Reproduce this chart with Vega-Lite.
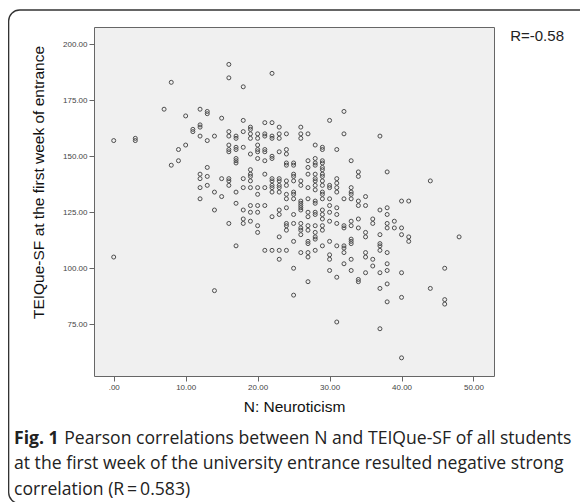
{
  "$schema": "https://vega.github.io/schema/vega-lite/v6.json",
  "width": 400,
  "height": 349,
  "autosize": "none",
  "padding": {"left": 94, "top": 27, "right": 86, "bottom": 126},
  "background": "white",
  "config": {
    "view": {"fill": "#f0f0f0", "stroke": "#666666", "strokeWidth": 1},
    "axis": {"grid": false, "domain": false, "tickColor": "#666666", "tickSize": 5, "labelFont": "Liberation Sans", "labelFontSize": 8, "labelColor": "#444444", "titleFont": "Liberation Sans", "titleFontSize": 15.5, "titleFontWeight": "normal", "titleColor": "#111111"}
  },
  "title": {
    "text": "Fig. 1",
    "subtitle": ["\u200b\u00a0\u00a0\u00a0\u00a0\u00a0\u00a0\u00a0\u00a0\u00a0\u00a0\u00a0Pearson correlations between N and TEIQue-SF of all students", "at the first week of the university entrance resulted negative strong", "correlation (R\u2009=\u20090.583)"],
    "orient": "bottom",
    "anchor": "start",
    "frame": "group",
    "dx": -80,
    "offset": -74.6,
    "font": "Open Sans",
    "fontSize": 17.6,
    "fontWeight": "bold",
    "color": "#222222",
    "subtitleFont": "Open Sans",
    "subtitleFontSize": 17.6,
    "subtitleColor": "#222222",
    "subtitleLineHeight": 25.5,
    "subtitlePadding": -17.6
  },
  "data": {"values": [
    {"N":0,"T":157},{"N":0,"T":105},{"N":3,"T":158},{"N":3,"T":157},
    {"N":7,"T":171},{"N":8,"T":183},{"N":8,"T":146},{"N":9,"T":153},{"N":9,"T":148},{"N":10,"T":168},{"N":10,"T":155},
    {"N":11,"T":162},{"N":11,"T":161},{"N":12,"T":171},{"N":12,"T":164},{"N":12,"T":163},{"N":12,"T":159},{"N":12,"T":142},{"N":12,"T":140},{"N":12,"T":136},{"N":12,"T":131},
    {"N":13,"T":170},{"N":13,"T":169},{"N":13,"T":157},{"N":13,"T":145},{"N":13,"T":141},{"N":13,"T":137},
    {"N":14,"T":159},{"N":14,"T":134},{"N":14,"T":126},{"N":14,"T":90},
    {"N":15,"T":167},{"N":15,"T":140},{"N":15,"T":132},
    {"N":16,"T":191},{"N":16,"T":185},{"N":16,"T":161},{"N":16,"T":159},{"N":16,"T":155},{"N":16,"T":153},{"N":16,"T":152},{"N":16,"T":140},{"N":16,"T":139},{"N":16,"T":137},{"N":16,"T":120},
    {"N":17,"T":159},{"N":17,"T":158},{"N":17,"T":154},{"N":17,"T":153},{"N":17,"T":149},{"N":17,"T":148},{"N":17,"T":147},{"N":17,"T":134},{"N":17,"T":129},{"N":17,"T":110},
    {"N":18,"T":181},{"N":18,"T":166},{"N":18,"T":161},{"N":18,"T":154},{"N":18,"T":140},{"N":18,"T":136},{"N":18,"T":126},{"N":18,"T":122},{"N":18,"T":120},
    {"N":19,"T":163},{"N":19,"T":162},{"N":19,"T":160},{"N":19,"T":158},{"N":19,"T":151},{"N":19,"T":144},{"N":19,"T":142},{"N":19,"T":141},{"N":19,"T":139},{"N":19,"T":136},{"N":19,"T":128},{"N":19,"T":125},{"N":19,"T":121},
    {"N":20,"T":160},{"N":20,"T":158},{"N":20,"T":155},{"N":20,"T":153},{"N":20,"T":152},{"N":20,"T":149},{"N":20,"T":136},{"N":20,"T":133},{"N":20,"T":128},{"N":20,"T":125},{"N":20,"T":119},{"N":20,"T":116},
    {"N":21,"T":165},{"N":21,"T":160},{"N":21,"T":159},{"N":21,"T":153},{"N":21,"T":152},{"N":21,"T":148},{"N":21,"T":142},{"N":21,"T":136},{"N":21,"T":128},{"N":21,"T":108},
    {"N":22,"T":187},{"N":22,"T":165},{"N":22,"T":159},{"N":22,"T":158},{"N":22,"T":150},{"N":22,"T":149},{"N":22,"T":140},{"N":22,"T":139},{"N":22,"T":137},{"N":22,"T":136},{"N":22,"T":134},{"N":22,"T":123},{"N":22,"T":108},
    {"N":23,"T":163},{"N":23,"T":160},{"N":23,"T":158},{"N":23,"T":152},{"N":23,"T":140},{"N":23,"T":139},{"N":23,"T":137},{"N":23,"T":136},{"N":23,"T":134},{"N":23,"T":126},{"N":23,"T":124},{"N":23,"T":114},{"N":23,"T":108},{"N":23,"T":104},
    {"N":24,"T":160},{"N":24,"T":153},{"N":24,"T":151},{"N":24,"T":147},{"N":24,"T":146},{"N":24,"T":139},{"N":24,"T":137},{"N":24,"T":133},{"N":24,"T":131},{"N":24,"T":127},{"N":24,"T":120},{"N":24,"T":119},{"N":24,"T":117},{"N":24,"T":108},
    {"N":25,"T":147},{"N":25,"T":146},{"N":25,"T":142},{"N":25,"T":141},{"N":25,"T":139},{"N":25,"T":134},{"N":25,"T":133},{"N":25,"T":131},{"N":25,"T":124},{"N":25,"T":120},{"N":25,"T":112},{"N":25,"T":100},{"N":25,"T":88},
    {"N":26,"T":163},{"N":26,"T":160},{"N":26,"T":158},{"N":26,"T":139},{"N":26,"T":137},{"N":26,"T":130},{"N":26,"T":129},{"N":26,"T":128},{"N":26,"T":127},{"N":26,"T":126},{"N":26,"T":120},{"N":26,"T":118},{"N":26,"T":117},{"N":26,"T":115},{"N":26,"T":107},
    {"N":27,"T":160},{"N":27,"T":148},{"N":27,"T":145},{"N":27,"T":142},{"N":27,"T":136},{"N":27,"T":131},{"N":27,"T":125},{"N":27,"T":123},{"N":27,"T":119},{"N":27,"T":117},{"N":27,"T":112},{"N":27,"T":111},{"N":27,"T":107},{"N":27,"T":105},{"N":27,"T":94},
    {"N":28,"T":155},{"N":28,"T":149},{"N":28,"T":147},{"N":28,"T":146},{"N":28,"T":142},{"N":28,"T":140},{"N":28,"T":139},{"N":28,"T":137},{"N":28,"T":135},{"N":28,"T":130},{"N":28,"T":129},{"N":28,"T":125},{"N":28,"T":124},{"N":28,"T":119},{"N":28,"T":116},{"N":28,"T":114},{"N":28,"T":113},{"N":28,"T":108},
    {"N":29,"T":154},{"N":29,"T":153},{"N":29,"T":148},{"N":29,"T":147},{"N":29,"T":145},{"N":29,"T":144},{"N":29,"T":142},{"N":29,"T":141},{"N":29,"T":139},{"N":29,"T":137},{"N":29,"T":134},{"N":29,"T":133},{"N":29,"T":131},{"N":29,"T":126},{"N":29,"T":124},{"N":29,"T":122},{"N":29,"T":119},{"N":29,"T":117},{"N":29,"T":110},
    {"N":30,"T":166},{"N":30,"T":137},{"N":30,"T":136},{"N":30,"T":131},{"N":30,"T":128},{"N":30,"T":125},{"N":30,"T":121},{"N":30,"T":112},{"N":30,"T":106},{"N":30,"T":104},{"N":30,"T":99},
    {"N":31,"T":153},{"N":31,"T":140},{"N":31,"T":138},{"N":31,"T":136},{"N":31,"T":134},{"N":31,"T":127},{"N":31,"T":124},{"N":31,"T":120},{"N":31,"T":110},{"N":31,"T":96},{"N":31,"T":76},
    {"N":32,"T":170},{"N":32,"T":160},{"N":32,"T":131},{"N":32,"T":119},{"N":32,"T":118},{"N":32,"T":110},{"N":32,"T":109},{"N":32,"T":107},{"N":32,"T":102},
    {"N":33,"T":148},{"N":33,"T":136},{"N":33,"T":134},{"N":33,"T":133},{"N":33,"T":131},{"N":33,"T":121},{"N":33,"T":119},{"N":33,"T":113},{"N":33,"T":112},{"N":33,"T":111},{"N":33,"T":104},{"N":33,"T":99},
    {"N":34,"T":143},{"N":34,"T":141},{"N":34,"T":130},{"N":34,"T":128},{"N":34,"T":122},{"N":34,"T":118},{"N":34,"T":95},{"N":34,"T":94},
    {"N":35,"T":132},{"N":35,"T":128},{"N":35,"T":116},{"N":35,"T":114},{"N":35,"T":107},{"N":35,"T":105},{"N":35,"T":98},
    {"N":36,"T":122},{"N":36,"T":120},{"N":36,"T":104},{"N":36,"T":101},
    {"N":37,"T":159},{"N":37,"T":126},{"N":37,"T":115},{"N":37,"T":111},{"N":37,"T":110},{"N":37,"T":108},{"N":37,"T":98},{"N":37,"T":91},{"N":37,"T":73},
    {"N":38,"T":143},{"N":38,"T":127},{"N":38,"T":124},{"N":38,"T":120},{"N":38,"T":118},{"N":38,"T":107},{"N":38,"T":102},{"N":38,"T":99},{"N":38,"T":93},{"N":38,"T":85},
    {"N":39,"T":121},{"N":39,"T":118},
    {"N":40,"T":130},{"N":40,"T":118},{"N":40,"T":115},{"N":40,"T":98},{"N":40,"T":87},{"N":40,"T":60},
    {"N":41,"T":130},{"N":41,"T":114},{"N":41,"T":112},
    {"N":44,"T":139},{"N":44,"T":91},
    {"N":46,"T":100},{"N":46,"T":86},{"N":46,"T":84},
    {"N":48,"T":114}
  ]},
  "layer": [
    {
      "data": {"values": [{"frame": 1}]},
      "mark": {"type": "rect", "filled": false, "stroke": "#333333", "strokeWidth": 1.3, "cornerRadius": 11, "clip": false},
      "encoding": {
        "x": {"datum": -14.6, "type": "quantitative"},
        "x2": {"datum": 68},
        "y": {"datum": 215.3, "type": "quantitative"},
        "y2": {"datum": -5}
      }
    },
    {
      "mark": {"type": "point", "shape": "circle", "filled": false, "stroke": "#4d4d4d", "strokeWidth": 1, "size": 16, "opacity": 1},
      "encoding": {
        "x": {"field": "N", "type": "quantitative", "scale": {"domain": [-2.74, 52.85], "nice": false, "zero": false},
          "axis": {"title": "N: Neuroticism", "values": [0, 10, 20, 30, 40, 50], "labelExpr": "datum.value == 0 ? '.00' : format(datum.value, '.2f')", "labelPadding": 2, "titlePadding": 8}},
        "y": {"field": "T", "type": "quantitative", "scale": {"domain": [51.9, 207.7], "nice": false, "zero": false},
          "axis": {"title": "TEIQue-SF at the first week of entrance", "values": [75, 100, 125, 150, 175, 200], "format": ".2f", "labelPadding": 2, "titleX": -48, "titleY": 155, "titleAngle": 270, "titleBaseline": "bottom", "titleAlign": "center"}}
      }
    },
    {
      "data": {"values": [{"label": "R=-0.58"}]},
      "mark": {"type": "text", "font": "Liberation Sans", "fontSize": 15, "color": "#222222", "align": "left", "baseline": "middle"},
      "encoding": {
        "text": {"field": "label", "type": "nominal"},
        "x": {"datum": 55.1, "type": "quantitative"},
        "y": {"datum": 203.7, "type": "quantitative"}
      }
    }
  ]
}
